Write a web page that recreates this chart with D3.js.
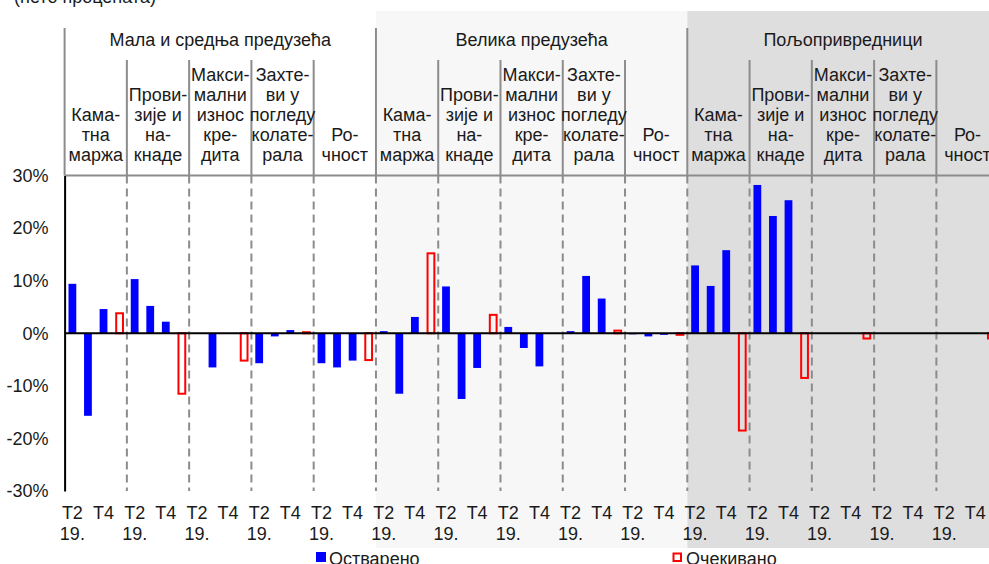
<!DOCTYPE html>
<html>
<head>
<meta charset="utf-8">
<script src="https://cdn.jsdelivr.net/npm/d3@7/dist/d3.min.js"></script>
<style>
  html, body { margin: 0; padding: 0; background: #fff; }
  svg { display: block; font-family: "Liberation Sans", Arial, sans-serif; }
</style>
</head>
<body>
<svg id="chart" width="989" height="564"></svg>
<script>
// ---------- DATA ----------
const groups = ["Мала и средња предузећа", "Велика предузећа", "Пољопривредници"];
const subcategories = [
  ["Кама-", "тна", "маржа"],
  ["Прови-", "зије и", "на-", "кнаде"],
  ["Макси-", "мални", "износ", "кре-", "дита"],
  ["Захте-", "ви у", "погледу", "колате-", "рала"],
  ["Ро-", "чност"]
];
const periods = ["Т2 19.", "Т3 19.", "Т4 19.", "Очекивано"];
const xTickLabels = [["Т2", "19."], [], ["Т4"], []];
const yTicks = [-30, -20, -10, 0, 10, 20, 30];
const legendLabels = ["Остварено", "Очекивано"];

// realized (T2, T3, T4) per subcategory, in %
const realizedSME   = [[9.4, -15.7, 4.6], [10.3, 5.2, 2.2], [0, -6.5, 0], [-5.7, -0.6, 0.6], [-5.7, -6.5, -5.2]];
const realizedLarge = [[0.4, -11.5, 3.1], [8.9, -12.5, -6.6], [1.2, -2.8, -6.3], [0.4, 10.9, 6.6], [-0.2, -0.6, -0.3]];
const realizedFarm  = [[12.9, 9.0, 15.8], [28.2, 22.3, 25.3], [0, 0, 0], [0, 0, 0], [0, 0, 0]];
// expected per subcategory, in %
const expectedSME   = [3.8, -11.5, -5.2, 0.2, -5.1];
const expectedLarge = [15.2, 3.5, 0, 0.5, -0.3];
const expectedFarm  = [-18.5, -8.5, -1.0, 0, -1.0];

const realized = [realizedSME, realizedLarge, realizedFarm];
const expected = [expectedSME, expectedLarge, expectedFarm];

// ---------- LAYOUT ----------
const svg = d3.select("#chart");
const plotLeft = 64.6, colW = 62.27;
const nSub = subcategories.length;
const plotRight = plotLeft + groups.length * nSub * colW;
const yTop = 175.5, yBottom = 491;
const txtColor = "#1a1a1a";
const fontSize = 18;

const keys = [];
groups.forEach((g, gi) => subcategories.forEach((s, si) => keys.push(gi + "-" + si)));
const xSub = d3.scaleBand().domain(keys).range([plotLeft, plotRight]).padding(0);
const xSlot = d3.scaleBand().domain(periods).range([0, xSub.bandwidth()]).paddingInner(0.5).paddingOuter(0.25);
const xGroup = d3.scaleBand().domain(groups).range([plotLeft, plotRight]);
const y = d3.scaleLinear().domain([-30, 30]).range([yBottom, yTop]);

// backgrounds
const bgFill = ["none", "#f7f7f7", "#dedede"];
svg.append("g").selectAll("rect").data(groups).join("rect")
  .attr("x", d => xGroup(d)).attr("y", 11)
  .attr("width", xGroup.bandwidth()).attr("height", 537)
  .attr("fill", (d, i) => bgFill[i]);

// top note (clipped)
svg.append("text").attr("x", 14).attr("y", 3)
  .attr("font-size", fontSize).attr("fill", txtColor)
  .text("(нето процената)");

// header lines
const lineCol = "#8c8c8c";
svg.append("g").selectAll("line").data(groups).join("line")
  .attr("x1", d => xGroup(d)).attr("x2", d => xGroup(d))
  .attr("y1", 28).attr("y2", yTop)
  .attr("stroke", lineCol).attr("stroke-width", 2);
svg.append("g").selectAll("line").data(keys.filter(k => !k.endsWith("-0"))).join("line")
  .attr("x1", d => xSub(d)).attr("x2", d => xSub(d))
  .attr("y1", 60).attr("y2", yTop)
  .attr("stroke", lineCol).attr("stroke-width", 2);

// group titles
svg.append("g").selectAll("text").data(groups).join("text")
  .attr("x", d => xGroup(d) + xGroup.bandwidth() / 2).attr("y", 46)
  .attr("text-anchor", "middle").attr("font-size", fontSize).attr("fill", txtColor)
  .text(d => d);

// subcategory labels (bottom aligned)
keys.forEach(k => {
  const si = +k.split("-")[1];
  const lines = subcategories[si];
  const t = svg.append("text").attr("text-anchor", "middle")
    .attr("font-size", fontSize).attr("fill", txtColor);
  lines.forEach((ln, li) => {
    t.append("tspan").attr("x", xSub(k) + xSub.bandwidth() / 2)
      .attr("y", 161 - (lines.length - 1 - li) * 20).text(ln);
  });
});

// dashed separators in plot
svg.append("g").selectAll("line").data(keys.slice(1).concat(["end"])).join("line")
  .attr("x1", d => d === "end" ? plotRight : xSub(d))
  .attr("x2", d => d === "end" ? plotRight : xSub(d))
  .attr("y1", yTop).attr("y2", yBottom)
  .attr("stroke", lineCol).attr("stroke-width", 2).attr("stroke-dasharray", "8,5");

// top border line
svg.append("line").attr("x1", plotLeft).attr("x2", plotRight)
  .attr("y1", y(30)).attr("y2", y(30)).attr("stroke", lineCol).attr("stroke-width", 2);

// bars
const barData = [];
realized.forEach((grp, gi) => grp.forEach((vals, si) => vals.forEach((v, pi) => {
  barData.push({ key: gi + "-" + si, period: periods[pi], v, type: "r" });
})));
expected.forEach((grp, gi) => grp.forEach((v, si) => {
  if (v !== 0) barData.push({ key: gi + "-" + si, period: periods[3], v, type: "e" });
}));

svg.append("g").selectAll("rect").data(barData.filter(d => d.type === "r")).join("rect")
  .attr("x", d => xSub(d.key) + xSlot(d.period))
  .attr("y", d => y(Math.max(0, d.v)))
  .attr("width", xSlot.bandwidth())
  .attr("height", d => Math.abs(y(d.v) - y(0)))
  .attr("fill", "#0000ff");

svg.append("g").selectAll("rect").data(barData.filter(d => d.type === "e")).join("rect")
  .attr("x", d => xSub(d.key) + xSlot(d.period) + 1)
  .attr("y", d => y(Math.max(0, d.v)))
  .attr("width", xSlot.bandwidth() - 1)
  .attr("height", d => Math.abs(y(d.v) - y(0)))
  .attr("fill", "none").attr("stroke", "#ff0000").attr("stroke-width", 2);

// zero line
svg.append("line").attr("x1", plotLeft).attr("x2", plotRight)
  .attr("y1", y(0)).attr("y2", y(0)).attr("stroke", "#000").attr("stroke-width", 2);

// y axis
const yAxis = d3.axisLeft(y).tickValues(yTicks).tickSize(0).tickPadding(16)
  .tickFormat(d => d + "%");
const ya = svg.append("g").attr("transform", `translate(${plotLeft},0)`).call(yAxis);
ya.select(".domain").attr("stroke", "#000").attr("stroke-width", 2);
ya.selectAll("text").attr("font-size", fontSize).attr("fill", txtColor)
  .attr("font-family", "Liberation Sans, Arial, sans-serif");

// x tick labels
keys.forEach(k => {
  periods.forEach((p, pi) => {
    const lines = xTickLabels[pi];
    if (!lines.length) return;
    const cx = xSub(k) + xSlot(p) + xSlot.bandwidth() / 2;
    const t = svg.append("text").attr("text-anchor", "middle")
      .attr("font-size", fontSize).attr("fill", txtColor);
    lines.forEach((ln, li) => t.append("tspan").attr("x", cx).attr("y", 519 + li * 21).text(ln));
  });
});

// legend
const lg = svg.append("g");
lg.append("rect").attr("x", 316).attr("y", 552).attr("width", 10).attr("height", 10).attr("fill", "#0000ff");
lg.append("text").attr("x", 329).attr("y", 565).attr("font-size", fontSize).attr("fill", txtColor).text(legendLabels[0]);
lg.append("rect").attr("x", 673.5).attr("y", 553.5).attr("width", 7.5).attr("height", 7.5)
  .attr("fill", "#fff").attr("stroke", "#ff0000").attr("stroke-width", 2);
lg.append("text").attr("x", 686).attr("y", 565).attr("font-size", fontSize).attr("fill", txtColor).text(legendLabels[1]);
</script>
</body>
</html>
